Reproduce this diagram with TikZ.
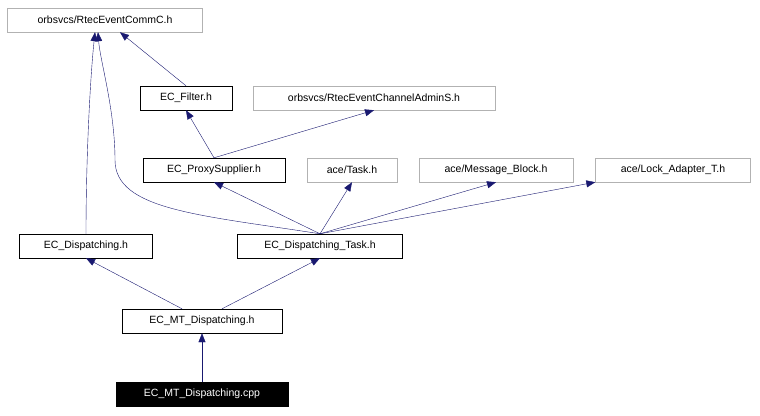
\documentclass[tikz,border=0pt]{standalone}
\usepackage{fontspec}
\setmainfont{Liberation Sans}
\usetikzlibrary{arrows.meta}
\definecolor{edgeblue}{RGB}{25,25,112}
\begin{document}
\begin{tikzpicture}[x=1pt,y=-1pt,
  every node/.style={font=\fontsize{10.5}{12}\selectfont,inner sep=0pt,minimum height=24pt},
  file/.style={draw=black,fill=white},
  ext/.style={draw=gray!60,fill=white},
  src/.style={draw=black,fill=black,text=white},
  inc/.style={-{Triangle[length=9pt,width=7pt,fill=edgeblue]},draw=edgeblue}]
\useasboundingbox (0,0) rectangle (760,415);

% Position the nodes at the places of the graph
\node[ext,minimum width=195pt] (commc) at (105,20) {orbsvcs/RtecEventCommC.h};
\node[file,minimum width=92pt] (filter) at (186,98) {EC\_Filter.h};
\node[ext,minimum width=242pt] (admins) at (374,98) {orbsvcs/RtecEventChannelAdminS.h};
\node[file,minimum width=142pt] (proxy) at (214,170) {EC\_ProxySupplier.h};
\node[ext,minimum width=90pt] (task) at (352,170) {ace/Task.h};
\node[ext,minimum width=154pt] (msgblock) at (496,170) {ace/Message\_Block.h};
\node[ext,minimum width=155pt] (lockadapter) at (673,170) {ace/Lock\_Adapter\_T.h};
\node[file,minimum width=133pt] (disp) at (86,246) {EC\_Dispatching.h};
\node[file,minimum width=165pt] (disptask) at (320,246) {EC\_Dispatching\_Task.h};
\node[file,minimum width=160pt] (mtdisp) at (202,321) {EC\_MT\_Dispatching.h};
\node[src,minimum width=172pt] (mtcpp) at (202,394) {EC\_MT\_Dispatching.cpp};

% Draw the include arrows
\draw[inc] (mtcpp) -- (mtdisp);
\draw[inc] (mtdisp.north) ++(-20,0) -- (disp.south);
\draw[inc] (mtdisp.north) ++(20,0) -- (disptask.south);
\draw[inc] (disp.north) .. controls (86,160) and (90,80) .. (commc.south -| 95,0);
\draw[inc] (disptask.north) .. controls (200,215) and (115,210) .. (115,160) .. controls (115,110) and (100,60) .. (commc.south -| 98,0);
\draw[inc] (disptask.north) -- (proxy.south);
\draw[inc] (disptask.north) -- (task.south);
\draw[inc] (disptask.north) -- (msgblock.south);
\draw[inc] (disptask.north) -- (lockadapter.south west);
\draw[inc] (proxy.north) -- (filter.south);
\draw[inc] (proxy.north) -- (admins.south);
\draw[inc] (filter.north) -- (commc.south -| 120,0);
\end{tikzpicture}
\end{document}
